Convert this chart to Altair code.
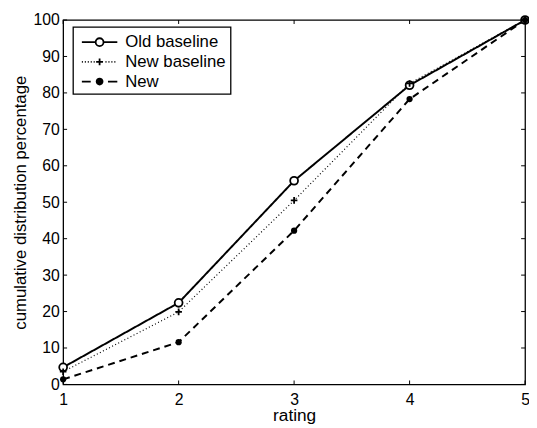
import altair as alt
import pandas as pd

ratings = [1, 2, 3, 4, 5]
series_names = ["Old baseline", "New baseline", "New"]
old_baseline = [4.7, 22.4, 55.9, 82.1, 100]
new_baseline = [3.5, 19.9, 50.5, 82.6, 100]
new_vals = [1.4, 11.6, 42.2, 78.3, 100]

rows = []
for name, vals in zip(series_names, [old_baseline, new_baseline, new_vals]):
    for r, v in zip(ratings, vals):
        rows.append({"rating": r, "pct": v, "series": name})
df = pd.DataFrame(rows)

x_ticks = [1, 2, 3, 4, 5]
y_ticks = list(range(0, 101, 10))

W, H = 469, 370
FONT = "Liberation Sans"

x_scale = alt.Scale(domain=[1, 5], nice=False, zero=False)
y_scale = alt.Scale(domain=[0, 100], nice=False)
dom = series_names

x_axis = alt.Axis(values=x_ticks, format="d", title="rating", tickSize=0, labelPadding=7,
                  labelFontSize=16, titleFontSize=17.5, titleFontWeight="normal",
                  titlePadding=0, domain=False, grid=False, labelFont=FONT,
                  titleFont=FONT, labelColor="black", titleColor="black",
                  labelFlush=False, labelOverlap=False)
y_axis = alt.Axis(values=y_ticks, format="d", title="cumulative distribution percentage",
                  tickSize=0, labelPadding=4, labelFontSize=16, titleFontSize=17,
                  titleFontWeight="normal", titlePadding=4, domain=False, grid=False,
                  labelFont=FONT, titleFont=FONT, labelColor="black",
                  titleColor="black", labelFlush=False, labelOverlap=False)

# ---- legend symbol paths (unit = 10.5 px, symbol size 21x21) ----
U = 10.5


def u(px):
    return round(px / U, 3)


def circle_path(r):
    r = u(r)
    return f"M{-r},0A{r},{r} 0 1,0 {r},0A{r},{r} 0 1,0 {-r},0Z"


half = 18
sym_old = f"M{u(-half)},0L{u(-4)},0M{u(4)},0L{u(half)},0" + circle_path(4)
dots = ""
p = -half
while p < half:
    if abs(p) > 5:
        dots += f"M{u(p)},0L{u(p + 1)},0"
    p += 3
sym_newb = dots + f"M{u(-3.5)},0L{u(3.5)},0M0,{u(-3.5)}L0,{u(3.5)}"
sym_new = f"M{u(-half)},0L{u(-9)},0M{u(8.5)},0L{u(half)},0" + circle_path(3)

base = alt.Chart(df)
X = alt.X("rating:Q", scale=x_scale, axis=x_axis)
Y = alt.Y("pct:Q", scale=y_scale, axis=y_axis)


def line_for(i, dash, width):
    return base.transform_filter(alt.datum.series == dom[i]).mark_line(
        color="black", strokeDash=dash, strokeWidth=width).encode(x=X, y=Y)


line_old = line_for(0, [1, 0], 2)
line_newb = line_for(1, [1, 2.5], 1.2)
line_new = line_for(2, [7, 5], 2)

pts_old = base.transform_filter(alt.datum.series == dom[0]).mark_point(
    shape="circle", color="black", fill="white", filled=False, fillOpacity=1,
    size=64, strokeWidth=1.8, opacity=1).encode(x=X, y=Y)
pts_newb = base.transform_filter(alt.datum.series == dom[1]).mark_point(
    shape="M-1,0L1,0M0,-1L0,1", color="black", size=45, strokeWidth=1.8,
    opacity=1).encode(x=X, y=Y)
pts_new = base.transform_filter(alt.datum.series == dom[2]).mark_point(
    shape="circle", color="black", filled=True, size=40, opacity=1).encode(x=X, y=Y)

# invisible layer whose only purpose is to produce the legend
legend_layer = base.mark_point(
    size=U * U * 4, strokeWidth=1.8, filled=False, opacity=0).encode(
    x=X, y=Y,
    shape=alt.Shape("series:N", scale=alt.Scale(domain=dom, range=[sym_old, sym_newb, sym_new]),
                    legend=alt.Legend(title=None)),
    fill=alt.Fill("series:N", scale=alt.Scale(domain=dom, range=["white", "black", "black"]),
                  legend=alt.Legend(title=None)),
    stroke=alt.Stroke("series:N", scale=alt.Scale(domain=dom, range=["black", "black", "black"]),
                      legend=alt.Legend(title=None)),
)

tick_df_x = pd.DataFrame({"t": x_ticks})
tick_df_y = pd.DataFrame({"t": y_ticks})
TX = alt.X("t:Q", scale=x_scale, axis=x_axis)
TY = alt.Y("t:Q", scale=y_scale, axis=y_axis)
xt_bottom = alt.Chart(tick_df_x).mark_rule(color="black", strokeWidth=1).encode(
    x=TX, y=alt.value(H), y2=alt.value(H - 4))
xt_top = alt.Chart(tick_df_x).mark_rule(color="black", strokeWidth=1).encode(
    x=TX, y=alt.value(0), y2=alt.value(4))
yt_left = alt.Chart(tick_df_y).mark_rule(color="black", strokeWidth=1).encode(
    y=TY, x=alt.value(0), x2=alt.value(4))
yt_right = alt.Chart(tick_df_y).mark_rule(color="black", strokeWidth=1).encode(
    y=TY, x=alt.value(W), x2=alt.value(W - 4))

chart = alt.layer(line_old, line_newb, line_new, pts_old, pts_newb, pts_new, legend_layer,
                  xt_bottom, xt_top, yt_left, yt_right).properties(
    width=W, height=H,
    background="white",
    autosize=alt.AutoSizeParams(type="none"),
    padding={"left": 56, "top": 9, "right": 4, "bottom": 40},
).configure(
    font=FONT
).configure_view(
    stroke="black", strokeWidth=1.3
).configure_legend(
    orient="none", legendX=10, legendY=7,
    strokeColor="black", fillColor="white", strokeWidth=1.3,
    padding=4, labelFont=FONT, labelFontSize=17, labelColor="black",
    symbolStrokeColor="black", symbolStrokeWidth=1.8, rowPadding=0,
    symbolOffset=11.5, labelOffset=14.5, labelLimit=300, symbolOpacity=1,
    symbolSize=U * U * 4, cornerRadius=0
)

chart.save("out.html", embed_options={"renderer": "svg", "actions": False})
